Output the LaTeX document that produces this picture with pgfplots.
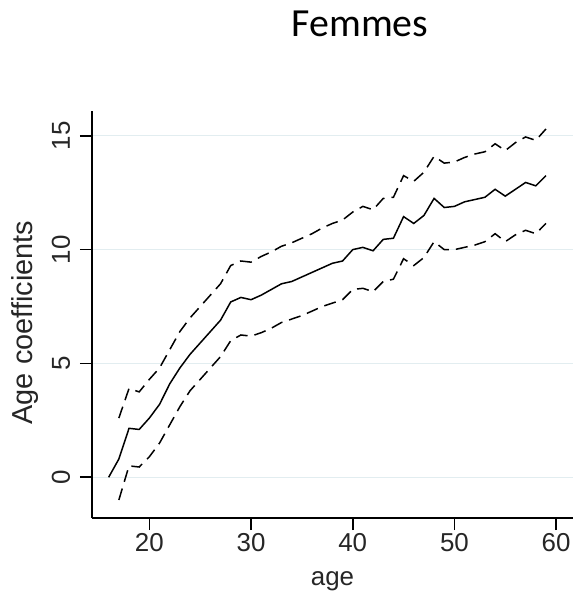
\documentclass[border=0pt]{standalone}
\usepackage{fontspec}
\setmainfont{Liberation Sans}
\newfontfamily\titlefont{Carlito}
\usepackage{pgfplots}
\usepackage{pgfplotstable}
\pgfplotsset{compat=1.18}
\definecolor{gridc}{RGB}{226,237,240}

\pgfplotstableread{
age mid
16 0
17 0.8
18 2.15
19 2.1
20 2.6
21 3.2
22 4.1
23 4.8
24 5.4
25 5.9
26 6.4
27 6.9
28 7.7
29 7.9
30 7.8
31 8.0
32 8.25
33 8.5
34 8.6
35 8.8
36 9.0
37 9.2
38 9.4
39 9.5
40 10.0
41 10.1
42 9.95
43 10.45
44 10.5
45 11.45
46 11.15
47 11.5
48 12.25
49 11.85
50 11.9
51 12.1
52 12.2
53 12.3
54 12.65
55 12.35
56 12.65
57 12.95
58 12.8
59 13.25
}\mid

\pgfplotstableread{
age up lo
17 2.6 -1.0
18 3.9 0.5
19 3.75 0.45
20 4.3 0.9
21 4.8 1.5
22 5.6 2.3
23 6.4 3.1
24 7.0 3.8
25 7.5 4.3
26 8.0 4.8
27 8.5 5.3
28 9.3 6.0
29 9.5 6.25
30 9.45 6.2
31 9.7 6.35
32 9.9 6.55
33 10.15 6.8
34 10.3 6.95
35 10.5 7.1
36 10.7 7.3
37 10.95 7.5
38 11.15 7.65
39 11.3 7.8
40 11.65 8.25
41 11.9 8.3
42 11.75 8.15
43 12.25 8.6
44 12.3 8.7
45 13.25 9.6
46 13.0 9.3
47 13.4 9.65
48 14.1 10.35
49 13.8 10.0
50 13.85 10.0
51 14.05 10.1
52 14.2 10.2
53 14.3 10.35
54 14.65 10.7
55 14.35 10.35
56 14.7 10.65
57 14.95 10.85
58 14.8 10.7
59 15.3 11.15
}\band

\begin{document}
\begin{tikzpicture}
\path[use as bounding box] (-92bp,-74bp) rectangle (481bp,518bp);
\begin{axis}[
  at={(0,0)}, anchor=south west,
  scale only axis, width=481bp, height=407bp,
  xmin=14.36, xmax=61.66, ymin=-1.79, ymax=16.09,
  axis x line*=bottom, axis y line*=left,
  axis line style={-, black, line width=1.6bp},
  xtick={20,30,40,50,60}, ytick={0,5,10,15},
  tick align=outside, major tick length=12bp,
  tick style={black, line width=1.6bp},
  ymajorgrids, grid style={gridc, line width=1.2bp},
  tick label style={font=\fontsize{26}{28}\selectfont, text=black!85, inner sep=0pt},
  label style={font=\fontsize{26}{28}\selectfont, text=black!85, inner sep=0pt},
  /pgf/number format/assume math mode=true,
  yticklabel style={xshift=-10bp, rotate=90, anchor=base},
  xticklabel style={anchor=base, yshift=-21bp},
  xlabel={age},
  xlabel style={at={(axis description cs:0.5,0)}, anchor=base, yshift=-67bp},
  ylabel={Age coefficients},
  ylabel style={at={(axis description cs:-0.1227,0.48)}, anchor=base, font=\fontsize{29}{30}\selectfont},
  clip=false,
]
\addplot[black, line width=1.5bp] table[x=age, y=mid] {\mid};
\addplot[black, line width=1.5bp, dash pattern=on 12bp off 7bp] table[x=age, y=up] {\band};
\addplot[black, line width=1.5bp, dash pattern=on 12bp off 7bp] table[x=age, y=lo] {\band};
\end{axis}
\node[anchor=base] at (268bp,481bp) {\titlefont\fontsize{40}{42}\selectfont Femmes};
\end{tikzpicture}
\end{document}
